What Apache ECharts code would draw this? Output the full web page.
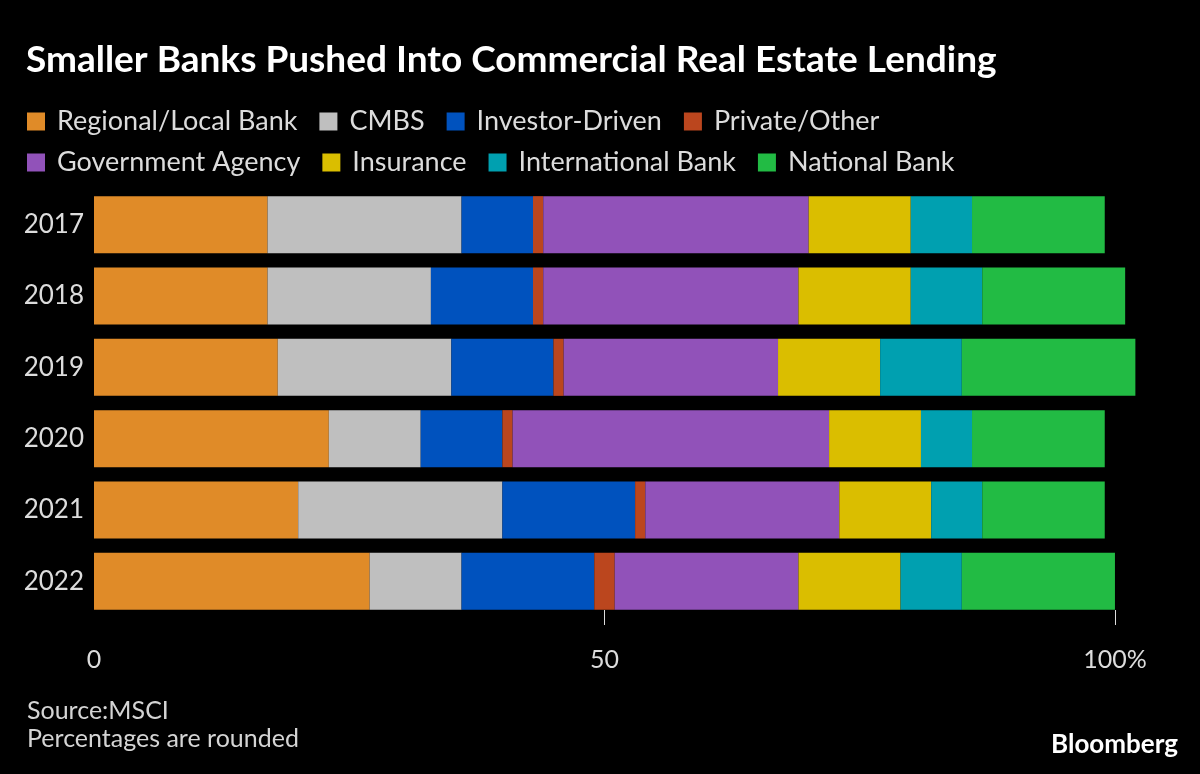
<!DOCTYPE html>
<html>
<head>
<meta charset="utf-8">
<script src="https://cdn.jsdelivr.net/npm/echarts@6.0.0/dist/echarts.min.js"></script>
<style>
  html, body { margin: 0; padding: 0; background: #000; }
  #chart { width: 1200px; height: 774px; }
</style>
</head>
<body>
<div id="chart"></div>
<script>
const years = ['2017', '2018', '2019', '2020', '2021', '2022'];
const regional = [17, 17, 18, 23, 20, 27];
const cmbs = [19, 16, 17, 9, 20, 9];
const investor = [7, 10, 10, 8, 13, 13];
const privateOther = [1, 1, 1, 1, 1, 2];
const government = [26, 25, 21, 31, 19, 18];
const insurance = [10, 11, 10, 9, 9, 10];
const international = [6, 7, 8, 5, 5, 6];
const national = [13, 14, 17, 13, 12, 15];
const xTicks = [0, 50, 100];

const seriesDefs = [
    { name: 'Regional/Local Bank', data: regional, color: '#E08B28' },
    { name: 'CMBS', data: cmbs, color: '#BFBFBF' },
    { name: 'Investor-Driven', data: investor, color: '#0052BE' },
    { name: 'Private/Other', data: privateOther, color: '#BB461E' },
    { name: 'Government Agency', data: government, color: '#9152B9' },
    { name: 'Insurance', data: insurance, color: '#DABE00' },
    { name: 'International Bank', data: international, color: '#00A0B0' },
    { name: 'National Bank', data: national, color: '#22BB44' }
];

const chart = echarts.init(document.getElementById('chart'));
const legendText = { color: '#dcdcdc', fontSize: 27, fontFamily: 'Lato, sans-serif', padding: [0, 0, 0, 7] };

const option = {
    backgroundColor: '#000',
    animation: false,
    title: [
        {
            text: 'Smaller Banks Pushed Into Commercial Real Estate Lending',
            left: 21, top: 37,
            textStyle: { color: '#fff', fontSize: 37, fontWeight: 'bold', fontFamily: 'Lato, sans-serif' }
        },
        {
            text: 'Source:MSCI\nPercentages are rounded',
            left: 22, top: 692,
            textStyle: { color: '#d4d4d4', fontSize: 25, fontWeight: 'normal', lineHeight: 28, fontFamily: 'Lato, sans-serif' }
        },
        {
            text: 'Bloomberg',
            right: 17, top: 727,
            textStyle: { color: '#fff', fontSize: 26, fontWeight: 'bold', fontFamily: 'Lato, sans-serif' }
        }
    ],
    legend: [
        {
            data: seriesDefs.slice(0, 4).map(s => s.name),
            left: 22, top: 103, itemWidth: 18, itemHeight: 18, itemGap: 22,
            icon: 'rect', textStyle: legendText
        },
        {
            data: seriesDefs.slice(4).map(s => s.name),
            left: 22, top: 144, itemWidth: 18, itemHeight: 18, itemGap: 22,
            icon: 'rect', textStyle: legendText
        }
    ],
    grid: { left: 94, right: 34, top: 189, bottom: 157 },
    xAxis: {
        type: 'value', min: 0, max: 105, interval: 50,
        offset: -7,
        splitLine: { show: false },
        axisLine: { show: false },
        axisTick: {
            show: true, length: 15,
            lineStyle: { color: '#ddd', width: 1 },
            customValues: [50, 100]
        },
        axisLabel: {
            color: '#dcdcdc', fontSize: 25, margin: 37,
            fontFamily: 'Lato, sans-serif',
            customValues: xTicks,
            formatter: v => v === 100 ? '100%' : String(v)
        }
    },
    yAxis: {
        type: 'category', data: years, inverse: true,
        axisLine: { show: false }, axisTick: { show: false },
        axisLabel: { color: '#dcdcdc', fontSize: 26, margin: 10, fontFamily: 'Lato, sans-serif' }
    },
    series: seriesDefs.map(s => ({
        name: s.name,
        type: 'bar',
        stack: 'total',
        data: s.data,
        barCategoryGap: '20%',
        itemStyle: { color: s.color }
    }))
};
chart.setOption(option);
</script>
</body>
</html>
